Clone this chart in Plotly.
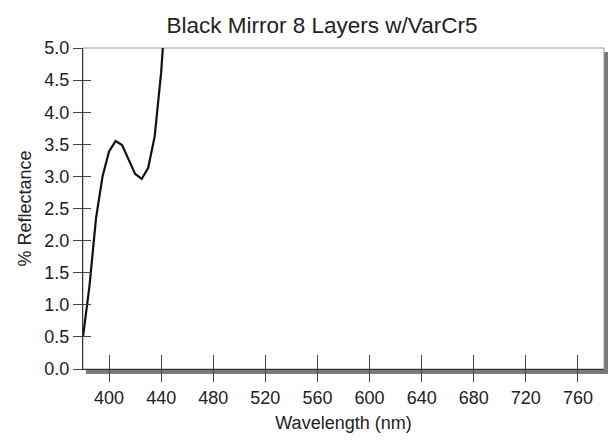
import plotly.graph_objects as go

# Measured reflectance of the 8-layer black mirror coating (VarCr5)
wavelength_nm = [380, 385, 390, 395, 400, 405, 410, 415, 420, 425, 430, 435, 440, 445]
reflectance_pct = [0.5, 1.3, 2.35, 3.0, 3.39, 3.55, 3.49, 3.26, 3.04, 2.96, 3.13, 3.62, 4.62, 6.1]

x_ticks = [400, 440, 480, 520, 560, 600, 640, 680, 720, 760]
y_ticks = [0.0, 0.5, 1.0, 1.5, 2.0, 2.5, 3.0, 3.5, 4.0, 4.5, 5.0]
y_tick_text = [f"{v:.1f}" for v in y_ticks]

FONT = "Liberation Sans, Arial, sans-serif"
W, H = 608, 441
ML, MR, MT, MB = 83, 4, 48, 72
PW, PH = W - ML - MR, H - MT - MB

fig = go.Figure()
fig.add_trace(go.Scatter(
    x=wavelength_nm, y=reflectance_pct, mode="lines",
    line=dict(color="#111111", width=2.2), showlegend=False,
))
# empty trace so the overlay axes (inward tick marks) get drawn
fig.add_trace(go.Scatter(x=[], y=[], xaxis="x2", yaxis="y2", showlegend=False, hoverinfo="skip"))

axis_common = dict(showgrid=False, zeroline=False)

fig.update_layout(
    width=W, height=H,
    margin=dict(l=ML, r=MR, t=MT, b=MB),
    paper_bgcolor="white",
    plot_bgcolor="rgba(0,0,0,0)",
    font=dict(family=FONT, color="#222222"),
    title=dict(
        text="Black Mirror 8 Layers w/VarCr5",
        font=dict(family=FONT, size=22.5, color="#222222"),
        x=322 / W, xanchor="center", xref="container",
        y=1 - 25 / H, yanchor="middle", yref="container",
    ),
    xaxis=dict(
        **axis_common, range=[380, 780], tickmode="array", tickvals=x_ticks,
        ticks="outside", ticklen=12, tickcolor="#444444", tickwidth=1,
        showline=True, linecolor="#333333", linewidth=1,
        tickfont=dict(size=18, color="#222222"),
        title=dict(text="Wavelength (nm)", font=dict(size=18, color="#222222"), standoff=9),
    ),
    yaxis=dict(
        **axis_common, range=[0, 5], tickmode="array", tickvals=y_ticks, ticktext=y_tick_text,
        ticks="outside", ticklen=9, tickcolor="#444444", tickwidth=1,
        showline=True, linecolor="#333333", linewidth=1,
        tickfont=dict(size=18, color="#222222"),
        title=dict(text="% Reflectance", font=dict(size=18, color="#222222"), standoff=8),
    ),
    xaxis2=dict(
        **axis_common, overlaying="x", matches="x", anchor="y2", side="bottom",
        tickmode="array", tickvals=x_ticks, ticks="inside", ticklen=14,
        tickcolor="#444444", tickwidth=1, showticklabels=False, showline=False,
    ),
    yaxis2=dict(
        **axis_common, overlaying="y", matches="y", anchor="x2", side="left",
        tickmode="array", tickvals=y_ticks, ticks="inside", ticklen=8,
        tickcolor="#444444", tickwidth=1, showticklabels=False, showline=False,
    ),
    shapes=[
        # drop shadow behind the plot frame
        dict(type="rect", xref="paper", yref="paper", layer="below",
             x0=3 / PW, x1=1 + 4 / PW, y0=-5 / PH, y1=1 - 4 / PH,
             fillcolor="#7a7a7a", line=dict(width=0)),
        # white plot panel with light frame
        dict(type="rect", xref="paper", yref="paper", layer="below",
             x0=0, x1=1, y0=0, y1=1,
             fillcolor="white", line=dict(color="#9a9a9a", width=1)),
    ],
)

fig.write_html("out.html")
